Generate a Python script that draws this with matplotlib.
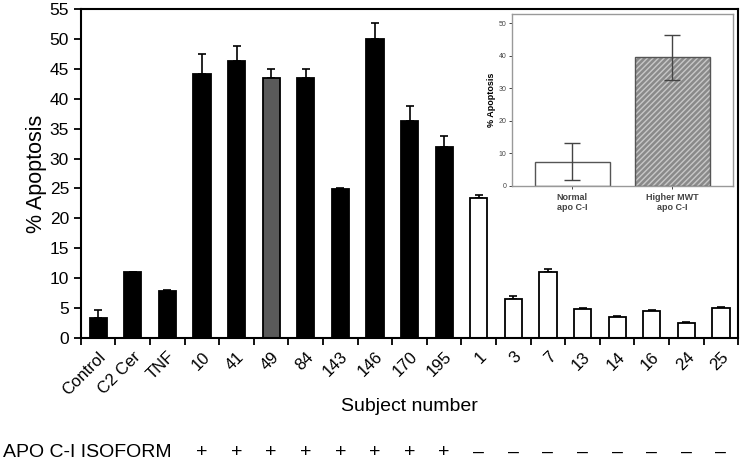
import numpy as np
import matplotlib.pyplot as plt

plt.rcParams['font.family'] = ['Liberation Sans', 'DejaVu Sans']

# main chart data
labels = ['Control', 'C2 Cer', 'TNF', '10', '41', '49', '84', '143', '146',
          '170', '195', '1', '3', '7', '13', '14', '16', '24', '25']
values = [3.4, 11.0, 7.8, 44.1, 46.3, 43.5, 43.5, 24.85, 50.0,
          36.3, 31.9, 23.45, 6.5, 11.1, 4.8, 3.45, 4.57, 2.45, 5.0]
errors = [1.3, 0.1, 0.25, 3.3, 2.5, 1.4, 1.4, 0.2, 2.7,
          2.4, 1.9, 0.45, 0.5, 0.4, 0.15, 0.15, 0.16, 0.15, 0.2]
kind = ['k', 'k', 'k', 'k', 'k', 'g', 'k', 'k', 'k',
        'k', 'k', 'w', 'w', 'w', 'w', 'w', 'w', 'w', 'w']
isoform = ['+'] * 8 + ['\u2013'] * 8  # subjects 10..25

# inset data
inset_labels = ['Normal\napo C-I', 'Higher MWT\napo C-I']
inset_values = [7.5, 39.5]
inset_errors = [5.8, 7.0]

colors = {'k': 'black', 'g': '#5a5a5a', 'w': 'white'}

fig = plt.figure(figsize=(7.42, 4.61), dpi=100)
ax = fig.add_axes([0.109, 0.2668, 0.886, 0.7137])

x = np.arange(len(labels))
ax.bar(x, values, width=0.5, color=[colors[k] for k in kind],
       edgecolor='black', linewidth=1.3, zorder=2)
ax.errorbar(x, values, yerr=[np.zeros(len(errors)), errors], fmt='none',
            ecolor='black', elinewidth=1.2, capsize=3, capthick=1.2, zorder=1)

ax.set_xlim(-0.5, len(labels) - 0.5)
ax.set_ylim(0, 55)
ax.set_yticks(np.arange(0, 56, 5))
ax.set_xticks(x)
ax.set_xticklabels(labels, rotation=45, ha='right', rotation_mode='anchor',
                   fontsize=12)
ax.set_xticks(np.arange(-0.5, len(labels), 1), minor=True)
ax.tick_params(axis='x', which='major', length=0, pad=8)
ax.tick_params(axis='x', which='minor', length=5, width=1.3, direction='out')
ax.tick_params(axis='y', length=5, width=1.3, direction='out', labelsize=12.5)
for s in ax.spines.values():
    s.set_linewidth(1.5)
ax.set_ylabel('% Apoptosis', fontsize=15.5, labelpad=2)
ax.set_xlabel('Subject number', fontsize=14, labelpad=0)

# isoform row
row_y = 1 - 452 / 461
fig.text(0.004, row_y, 'APO C-I ISOFORM', fontsize=14, va='center', ha='left')
fig_w = fig.get_figwidth() * fig.dpi
for i, sign in enumerate(isoform):
    px = ax.transData.transform((x[3 + i], 0))[0]
    fig.text(px / fig_w, row_y, sign, fontsize=14, va='center', ha='center')

# inset
ins = fig.add_axes([512 / 742, 1 - 186 / 461, 221 / 742, 172 / 461])
xi = np.arange(len(inset_labels))
ins.bar(xi[0], inset_values[0], width=0.75, color='white', edgecolor='#555555',
        linewidth=1.0, zorder=2)
ins.bar(xi[1], inset_values[1], width=0.75, color='#8a8a8a', edgecolor='#c8c8c8',
        hatch='//////', linewidth=0, zorder=2)
ins.bar(xi[1], inset_values[1], width=0.75, fill=False, edgecolor='#555555',
        linewidth=1.0, zorder=3)
ins.errorbar(xi, inset_values, yerr=inset_errors, fmt='none', ecolor='#444444',
             elinewidth=1.0, capsize=6, capthick=1.0, zorder=4)
ins.set_xlim(-0.6, 1.61)
ins.set_ylim(0, 52.8)
ins.set_yticks(np.arange(0, 51, 10))
ins.set_xticks(xi)
ins.set_xticklabels(inset_labels, fontsize=6.5, fontweight='bold')
ins.tick_params(axis='both', labelsize=5, length=2, width=0.7, colors='#444444', pad=2)
ins.tick_params(axis='x', labelsize=6.5, pad=3)
ins.set_ylabel('% Apoptosis', fontsize=6.5, fontweight='bold', labelpad=2)
for s in ins.spines.values():
    s.set_linewidth(1.0)
    s.set_color('#999999')

fig.savefig('out.png', dpi=100)
